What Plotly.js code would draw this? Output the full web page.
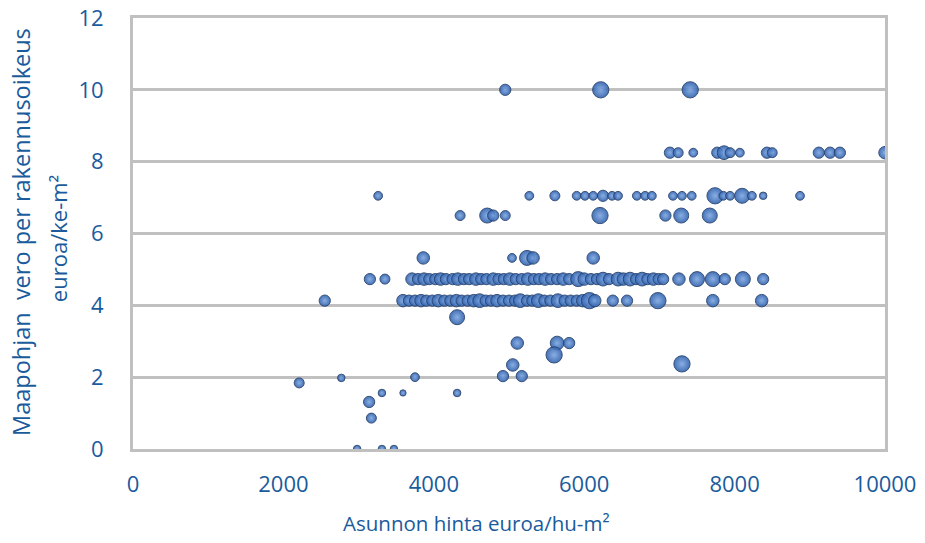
<!DOCTYPE html>
<html>
<head>
<meta charset="utf-8">
<script src="https://cdn.plot.ly/plotly-3.0.1.min.js"></script>
<style>
  html, body { margin: 0; padding: 0; background: #ffffff; }
  #chart { width: 925px; height: 543px; }
</style>
</head>
<body>
<div id="chart"></div>
<script>
// Asunnon hinta (euroa/hu-m²)
const hinta = [
  // y = 10
  4950, 6220, 7410,
  // y ≈ 8.25
  7140, 7250, 7450, 7770, 7860, 7940, 8070, 8430, 8500, 9120, 9270, 9400, 10000,
  // y ≈ 7.05
  3260, 5270, 5610, 5900, 6010, 6120, 6250, 6370, 6450, 6700, 6810, 6900, 7180, 7300, 7430, 7740, 7850, 7940, 8100, 8230, 8380, 8870,
  // y ≈ 6.5
  4350, 4710, 4790, 4950, 6210, 7080, 7290, 7670,
  // y ≈ 5.3
  3860, 5040, 5240, 5320, 6120,
  // y ≈ 4.73
  3150, 3350, 3710, 3790, 3870, 3940, 4020, 4090, 4160, 4250, 4320, 4400, 4470, 4560, 4630, 4700, 4790, 4860, 4930, 5010,
  5090, 5170, 5250, 5330, 5400, 5480, 5560, 5640, 5720, 5800, 5920, 6000, 6090, 6170, 6250, 6330, 6450, 6520, 6610, 6690,
  6770, 6840, 6920, 6990, 7050, 7260, 7500, 7710, 7870, 8110, 8380,
  // y ≈ 4.13
  2550, 3590, 3670, 3750, 3830, 3900, 3980, 4060, 4140, 4220, 4300, 4370, 4450, 4530, 4610, 4690, 4760, 4840, 4920, 5000,
  5080, 5150, 5240, 5310, 5390, 5470, 5550, 5650, 5740, 5820, 5900, 5980, 6070, 6140, 6380, 6570, 6980, 7710, 8360,
  // lower values
  4310, 5110, 5640, 5800, 5600, 5050, 4920, 5170, 7300, 2210, 2770, 3750, 3310, 3590, 4310, 3140, 3170, 2980, 3310, 3470
];

// Maapohjan vero per rakennusoikeus (euroa/ke-m²)
const vero = [
  10.0, 10.0, 10.0,
  8.25, 8.25, 8.25, 8.25, 8.25, 8.25, 8.25, 8.25, 8.25, 8.25, 8.25, 8.25, 8.25,
  7.05, 7.05, 7.05, 7.05, 7.05, 7.05, 7.05, 7.05, 7.05, 7.05, 7.05, 7.05, 7.05, 7.05, 7.05, 7.05, 7.05, 7.05, 7.05, 7.05, 7.05, 7.05,
  6.5, 6.5, 6.5, 6.5, 6.5, 6.5, 6.5, 6.5,
  5.32, 5.32, 5.32, 5.32, 5.32,
  4.73, 4.73, 4.73, 4.73, 4.73, 4.73, 4.73, 4.73, 4.73, 4.73, 4.73, 4.73, 4.73, 4.73, 4.73, 4.73, 4.73, 4.73, 4.73, 4.73,
  4.73, 4.73, 4.73, 4.73, 4.73, 4.73, 4.73, 4.73, 4.73, 4.73, 4.73, 4.73, 4.73, 4.73, 4.73, 4.73, 4.73, 4.73, 4.73, 4.73,
  4.73, 4.73, 4.73, 4.73, 4.73, 4.73, 4.73, 4.73, 4.73, 4.73, 4.73,
  4.13, 4.13, 4.13, 4.13, 4.13, 4.13, 4.13, 4.13, 4.13, 4.13, 4.13, 4.13, 4.13, 4.13, 4.13, 4.13, 4.13, 4.13, 4.13, 4.13,
  4.13, 4.13, 4.13, 4.13, 4.13, 4.13, 4.13, 4.13, 4.13, 4.13, 4.13, 4.13, 4.13, 4.13, 4.13, 4.13, 4.13, 4.13, 4.13,
  3.67, 2.95, 2.95, 2.95, 2.62, 2.34, 2.03, 2.03, 2.37, 1.84, 1.98, 2.0, 1.56, 1.56, 1.56, 1.31, 0.86, 0, 0, 0
];

// bubble weight (relative size of each observation)
const paino = [
  4.5, 6.5, 6.5,
  4.5, 4, 3.5, 4.5, 5.5, 4, 3.5, 4.5, 4, 4.5, 4.5, 4.5, 5,
  3.5, 3.5, 4, 3.5, 3.5, 3.5, 4.5, 3.5, 3.5, 3.5, 3.5, 3.5, 3.5, 3.5, 3.5, 6.5, 3.5, 3.5, 6, 3.5, 3, 3.5,
  4, 6, 4.5, 4, 6.5, 4.5, 6, 6,
  5, 3.5, 6, 5, 5,
  4.5, 4, 5, 4.5, 5, 4.5, 4.5, 5, 4.5, 4.5, 5, 4.5, 4.5, 5, 4.5, 4.5, 5, 4.5, 4.5, 5,
  4.5, 4.5, 5, 4.5, 4.5, 5, 4.5, 4.5, 5, 4.5, 6, 5, 4.5, 4.5, 5.5, 4.5, 5.5, 5, 5.5, 4.5,
  5.5, 4.5, 5, 4.5, 4.5, 5, 6, 6, 4.5, 6, 4.5,
  4.5, 5, 4.5, 4.5, 5, 4.5, 4.5, 5, 4.5, 4.5, 5, 4.5, 4.5, 5, 5.5, 4.5, 4.5, 5, 4.5, 4.5,
  4.5, 5.5, 4.5, 4.5, 5.5, 4.5, 4.5, 5.5, 4.5, 4.5, 4.5, 5, 6.5, 5, 4.5, 4.5, 6.5, 5, 5,
  6, 5, 5.5, 4.5, 6.5, 5, 4.5, 4.5, 6.5, 4, 3, 3.5, 3, 2.5, 3, 4.5, 4, 3, 3, 3
];

const textColor = '#1a5b9c';
const gridColor = '#c0c0c0';
const font = 'Open Sans, Noto Sans, sans-serif';

const trace = {
  type: 'scatter',
  mode: 'markers',
  x: hinta,
  y: vero,
  marker: {
    size: paino,
    sizemode: 'diameter',
    sizeref: 0.4,
    color: '#3163ad',
    opacity: 0.9,
    gradient: { type: 'radial', color: '#7ea6e2' },
    line: { color: '#243f6e', width: 1 }
  },
  cliponaxis: true,
  hoverinfo: 'x+y'
};

const layout = {
  width: 925,
  height: 543,
  margin: { l: 133, r: 40, t: 18, b: 94 },
  paper_bgcolor: '#ffffff',
  plot_bgcolor: '#ffffff',
  showlegend: false,
  font: { family: font, color: textColor, size: 22 },
  xaxis: {
    range: [0, 10000],
    tickvals: [0, 2000, 4000, 6000, 8000, 10000],
    ticktext: ['0', '2000', '4000', '6000', '8000', '10000'],
    showgrid: false,
    zeroline: false,
    showline: true,
    mirror: true,
    linecolor: gridColor,
    linewidth: 3,
    ticks: 'outside',
    ticklen: 14,
    tickcolor: 'rgba(0,0,0,0)',
    tickfont: { family: font, size: 22, color: textColor }
  },
  yaxis: {
    range: [0, 12],
    tickvals: [0, 2, 4, 6, 8, 10, 12],
    ticktext: ['0', '2', '4', '6', '8', '10', '12'],
    showgrid: true,
    gridcolor: gridColor,
    gridwidth: 3,
    zeroline: false,
    showline: true,
    mirror: true,
    linecolor: gridColor,
    linewidth: 3,
    ticks: 'outside',
    ticklen: 22,
    tickcolor: 'rgba(0,0,0,0)',
    tickfont: { family: font, size: 22, color: textColor }
  },
  annotations: [
    {
      text: 'Asunnon hinta euroa/hu-m²',
      xref: 'paper', yref: 'paper',
      x: 0.457, y: -0.172,
      xanchor: 'center', yanchor: 'middle',
      showarrow: false,
      font: { family: font, size: 20.5, color: textColor }
    },
    {
      text: 'Maapohjan  vero per rakennusoikeus',
      xref: 'paper', yref: 'paper',
      x: -0.148, y: 0.503,
      xanchor: 'center', yanchor: 'middle',
      textangle: -90,
      showarrow: false,
      font: { family: font, size: 23.5, color: textColor }
    },
    {
      text: 'euroa/ke-m²',
      xref: 'paper', yref: 'paper',
      x: -0.0997, y: 0.487,
      xanchor: 'center', yanchor: 'middle',
      textangle: -90,
      showarrow: false,
      font: { family: font, size: 22, color: textColor }
    }
  ]
};

Plotly.newPlot('chart', [trace], layout, { displayModeBar: false, staticPlot: true });
</script>
</body>
</html>
